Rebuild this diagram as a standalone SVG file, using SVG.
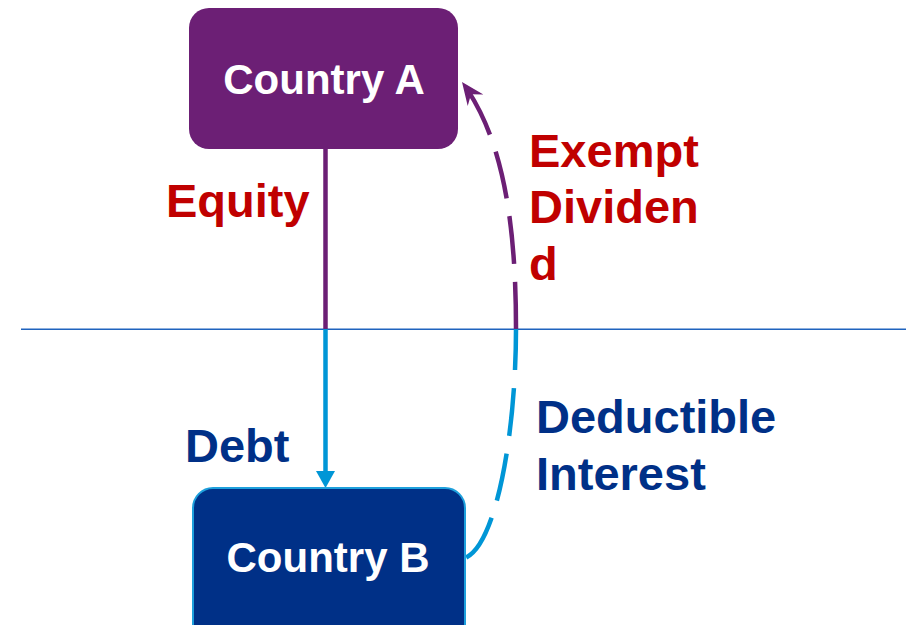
<svg xmlns="http://www.w3.org/2000/svg" width="910" height="625" viewBox="0 0 910 625">
<style>
.node-text{font-family:"Liberation Sans",Arial,sans-serif;font-weight:bold;font-size:42px;fill:#ffffff;text-anchor:middle}
.lbl{font-family:"Liberation Sans",Arial,sans-serif;font-weight:bold;font-size:47px}
.red{fill:#C00000}
.navy{fill:#003087}
.dash{fill:none;stroke-width:4.5;stroke-dasharray:48 18}
</style>
<defs>
<marker id="stealth" markerUnits="userSpaceOnUse" markerWidth="26" markerHeight="26" viewBox="-22 -11 24 22" refX="0" refY="0" orient="auto">
<path d="M0,0 L-21,-9 L-14,0 L-21,9 Z" fill="#6C1F75"/>
</marker>
</defs>
<rect x="0" y="0" width="910" height="625" fill="#ffffff"/>
<line x1="21" y1="329.3" x2="906" y2="329.3" stroke="#1F63BE" stroke-width="1.6"/>
<g id="connectors">
<line x1="325.5" y1="149" x2="325.5" y2="329" stroke="#6C1F75" stroke-width="4.5"/>
<line x1="325.5" y1="329" x2="325.5" y2="474" stroke="#0096D6" stroke-width="4.5"/>
<polygon points="316,471 335,471 325.5,488" fill="#0096D6"/>
<path class="dash" d="M516,329 C516,430 497,545 465,558" stroke="#0096D6" stroke-dashoffset="7"/>
<path class="dash" d="M516,329 C516,230 505,140 462,82" stroke="#6C1F75" stroke-dashoffset="1" marker-end="url(#stealth)"/>
</g>
<g id="country-a">
<rect x="189" y="8" width="269" height="141" rx="20" fill="#6C1F75"/>
<text class="node-text" x="324" y="94">Country A</text>
</g>
<g id="country-b">
<rect x="193" y="488" width="272" height="160" rx="20" fill="#003087" stroke="#1EA0DC" stroke-width="2"/>
<text class="node-text" x="328" y="572">Country B</text>
</g>
<g id="labels">
<text class="lbl red" x="166" y="217">Equity</text>
<text class="lbl red" x="529" y="167">Exempt</text>
<text class="lbl red" x="529" y="223">Dividen</text>
<text class="lbl red" x="529" y="280">d</text>
<text class="lbl navy" x="185" y="462">Debt</text>
<text class="lbl navy" x="536" y="433">Deductible</text>
<text class="lbl navy" x="536" y="490">Interest</text>
</g>
</svg>
